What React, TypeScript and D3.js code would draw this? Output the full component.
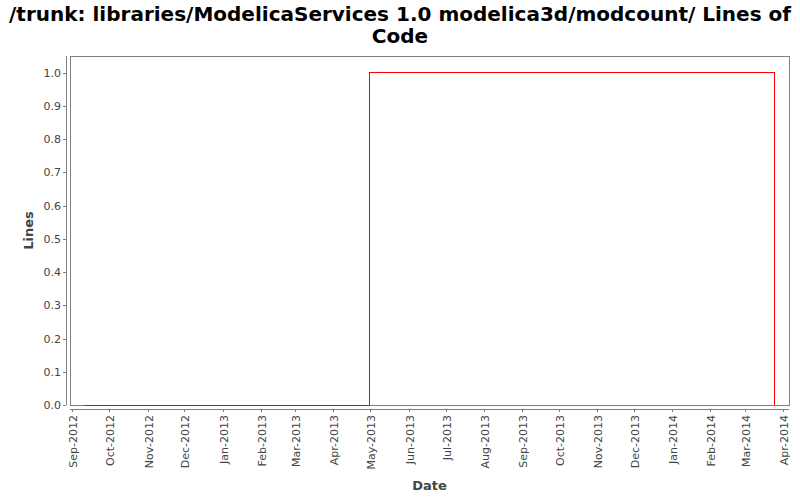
import React from "react";
import * as d3 from "d3";

const titleLines = ["/trunk: libraries/ModelicaServices 1.0 modelica3d/modcount/ Lines of", "Code"];
const dates = ["2012-09-10", "2013-04-30", "2014-03-25"];
const values = [0, 1, 0];
const yTicks = [0, 0.1, 0.2, 0.3, 0.4, 0.5, 0.6, 0.7, 0.8, 0.9, 1.0];
const xTickMonths = [
  "2012-09-01", "2012-10-01", "2012-11-01", "2012-12-01", "2013-01-01", "2013-02-01",
  "2013-03-01", "2013-04-01", "2013-05-01", "2013-06-01", "2013-07-01", "2013-08-01",
  "2013-09-01", "2013-10-01", "2013-11-01", "2013-12-01", "2014-01-01", "2014-02-01",
  "2014-03-01", "2014-04-01",
];
const xDomain = ["2012-08-30", "2014-04-06"];

const parse = d3.utcParse("%Y-%m-%d");
const fmt = d3.utcFormat("%b-%Y");

export default function App() {
  const W = 800, H = 500;
  const left = 70, right = 789, top = 56, bottom = 405;
  const x = d3.scaleUtc().domain(xDomain.map((d) => parse(d)!)).range([left, right]);
  const y = d3.scaleLinear().domain([0, 1.05]).range([bottom, top]);
  const pts = dates.map((d, i) => [x(parse(d)!), y(values[i])] as [number, number]);
  const line = d3.line().curve(d3.curveStepAfter)(pts) || "";
  const font = "DejaVu Sans, sans-serif";
  const axisY = 409;
  const axisX = 66;
  return (
    <svg width={W} height={H} style={{ position: "absolute", left: 0, top: 0 }} fontFamily={font}>
      <rect x={0} y={0} width={W} height={H} fill="#fff" />
      {titleLines.map((t, i) => (
        <text key={i} x={W / 2} y={21 + i * 22} textAnchor="middle" fontWeight="bold" fontSize={20} fill="#000">
          {t}
        </text>
      ))}
      <rect x={left} y={top} width={right - left} height={bottom - top} fill="#fff" stroke="#808080" strokeWidth={1} shapeRendering="crispEdges" />
      {/* y axis */}
      <line x1={axisX + 0.5} x2={axisX + 0.5} y1={top} y2={bottom} stroke="#808080" />
      {yTicks.map((t) => (
        <g key={t}>
          <line x1={axisX - 3} x2={axisX} y1={Math.round(y(t)) + 0.5} y2={Math.round(y(t)) + 0.5} stroke="#808080" />
          <text x={axisX - 5} y={y(t) + 4} textAnchor="end" fontSize={11} fill="#444">
            {t.toFixed(1)}
          </text>
        </g>
      ))}
      {/* x axis */}
      <line x1={left} x2={right} y1={axisY + 0.5} y2={axisY + 0.5} stroke="#808080" />
      {xTickMonths.map((m) => {
        const d = parse(m)!;
        const px = Math.round(x(d)) + 0.5;
        return (
          <g key={m}>
            <line x1={px} x2={px} y1={axisY} y2={axisY + 3} stroke="#808080" />
            <text transform={`translate(${px + 4},${axisY + 6}) rotate(-90)`} textAnchor="end" fontSize={11} fill="#444">
              {fmt(d)}
            </text>
          </g>
        );
      })}
      <path d={line} fill="none" stroke="#ff0000" strokeWidth={1} shapeRendering="crispEdges" />
      <text x={(left + right) / 2} y={490} textAnchor="middle" fontSize={13} fontWeight="bold" fill="#444">Date</text>
      <text transform={`translate(33,${(top + bottom) / 2}) rotate(-90)`} textAnchor="middle" fontSize={13} fontWeight="bold" fill="#444">Lines</text>
    </svg>
  );
}
